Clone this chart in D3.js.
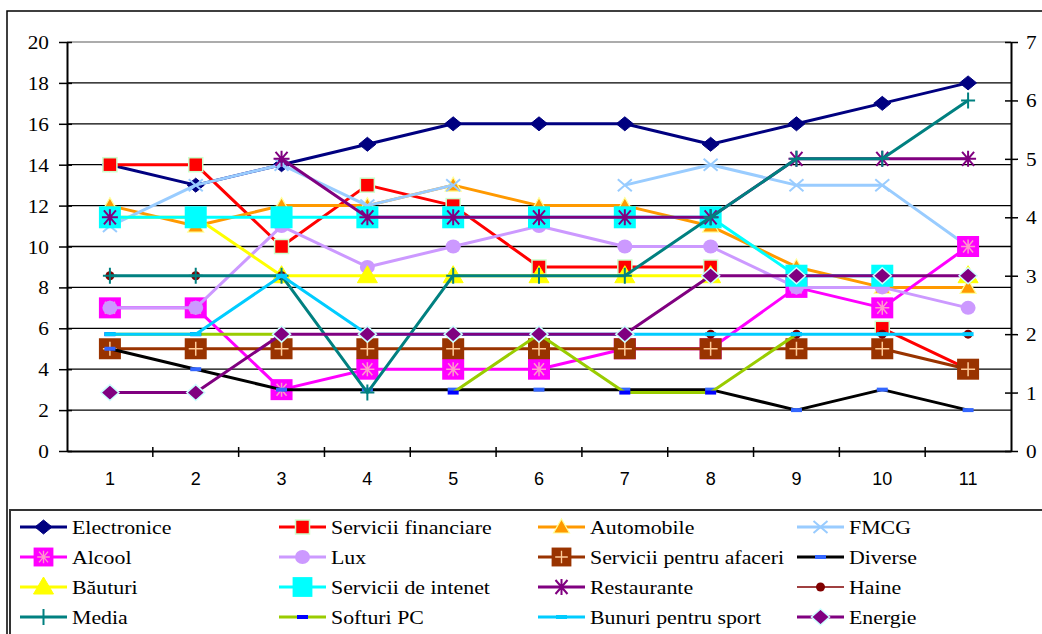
<!DOCTYPE html>
<html>
<head>
<meta charset="utf-8">
<script src="https://cdn.jsdelivr.net/npm/d3@7"></script>
<style>
  body { margin: 0; background: #fff; }
  svg { display: block; }
</style>
</head>
<body>
<div id="chart"></div>
<script>
var width = 1042;
var height = 634;

// categories and tick labels
var cats = ["1","2","3","4","5","6","7","8","9","10","11"];
var leftTicks = [0,2,4,6,8,10,12,14,16,18,20];
var rightTicks = [0,1,2,3,4,5,6,7];

// primary axis series
var electronice = [14,13,14,15,16,16,16,15,16,17,18];
var serviciiFinanciare = [14,14,10,13,12,9,9,9,null,6,4];
var automobile = [12,11,12,12,13,12,12,11,9,8,8];
var fmcg = [11,13,14,12,13,null,13,14,13,13,10];
var alcool = [7,7,3,4,4,4,5,5,8,7,10];
var lux = [7,7,11,9,10,11,10,10,8,8,7];
var serviciiAfaceri = [5,5,5,5,5,5,5,5,5,5,4];
var diverse = [5,4,3,3,3,3,3,3,2,3,2];

// secondary axis series
var bauturi = [4,4,3,3,3,3,3,3,null,null,3];
var serviciiIntenet = [4,4,4,4,4,4,4,4,3,3,null];
var restaurante = [4,null,5,4,4,4,4,4,5,5,5];
var haine = [3,3,3,null,null,null,null,2,2,2,2];
var media = [3,3,3,1,3,3,3,4,5,5,6];
var softuriPC = [2,2,2,null,1,2,1,1,2,null,null];
var bunuriSport = [2,2,3,2,2,2,2,2,2,2,2];
var energie = [1,1,2,2,2,2,2,3,3,3,3];

var series = [
  {name:"Electronice", values:electronice, axis:"L", color:"#000080", lw:3, marker:"diamond", mfill:"#000080", mstroke:"#000080"},
  {name:"Servicii financiare", values:serviciiFinanciare, axis:"L", color:"#FF0000", lw:3, marker:"square", mfill:"#FF0000", mstroke:"#CCFFCC"},
  {name:"Automobile", values:automobile, axis:"L", color:"#FF9900", lw:3, marker:"triangle", mfill:"#FF9900", mstroke:"#FFFF99"},
  {name:"FMCG", values:fmcg, axis:"L", color:"#99CCFF", lw:3, marker:"x", mfill:"none", mstroke:"#99CCFF"},
  {name:"Alcool", values:alcool, axis:"L", color:"#FF00FF", lw:3, marker:"squareStar", mfill:"#FF00FF", mstroke:"#FF99CC"},
  {name:"Lux", values:lux, axis:"L", color:"#CC99FF", lw:3, marker:"circle", mfill:"#CC99FF", mstroke:"#CC99FF"},
  {name:"Servicii pentru afaceri", values:serviciiAfaceri, axis:"L", color:"#993300", lw:3, marker:"squarePlus", mfill:"#993300", mstroke:"#FFCC99"},
  {name:"Diverse", values:diverse, axis:"L", color:"#000000", lw:3, marker:"dash", mfill:"#3366FF", mstroke:"none"},
  {name:"B\u0103uturi", values:bauturi, axis:"R", color:"#FFFF00", lw:3, marker:"bigTriangle", mfill:"#FFFF00", mstroke:"#FFFF00"},
  {name:"Servicii de intenet", values:serviciiIntenet, axis:"R", color:"#00FFFF", lw:3, marker:"bigSquare", mfill:"#00FFFF", mstroke:"#00FFFF"},
  {name:"Restaurante", values:restaurante, axis:"R", color:"#800080", lw:3, marker:"star", mfill:"none", mstroke:"#800080"},
  {name:"Haine", values:haine, axis:"R", color:"#800000", lw:1.5, marker:"smallCircle", mfill:"#800000", mstroke:"#800000"},
  {name:"Media", values:media, axis:"R", color:"#008080", lw:3, marker:"plus", mfill:"none", mstroke:"#008080"},
  {name:"Softuri PC", values:softuriPC, axis:"R", color:"#99CC00", lw:3, marker:"dash", mfill:"#0000FF", mstroke:"none"},
  {name:"Bunuri pentru sport", values:bunuriSport, axis:"R", color:"#00CCFF", lw:3, marker:"dash", mfill:"#00CCFF", mstroke:"none"},
  {name:"Energie", values:energie, axis:"R", color:"#800080", lw:3, marker:"smallDiamond", mfill:"#800080", mstroke:"#CCFFFF"}
];

var legendOrder = [
  "Electronice","Servicii financiare","Automobile","FMCG",
  "Alcool","Lux","Servicii pentru afaceri","Diverse",
  "B\u0103uturi","Servicii de intenet","Restaurante","Haine",
  "Media","Softuri PC","Bunuri pentru sport","Energie"
];

var plot = {left:67, right:1011, top:42, bottom:451};

var svg = d3.select("#chart")
  .append("svg")
  .attr("width", width)
  .attr("height", height);

// outer chart border and legend box
svg.append("rect")
  .attr("x", 7).attr("y", 11)
  .attr("width", 1100).attr("height", 700)
  .attr("fill", "#fff")
  .attr("stroke", "#000")
  .attr("stroke-width", 1.5);

var x = d3.scaleBand().domain(cats).range([plot.left, plot.right]);
var yL = d3.scaleLinear().domain([0,20]).range([plot.bottom, plot.top]);
var yR = d3.scaleLinear().domain([0,7]).range([plot.bottom, plot.top]);

function cx(i){ return x(cats[i]) + x.bandwidth()/2; }

// gridlines
svg.append("g").selectAll("line")
  .data(leftTicks.filter(function(d){ return d > 0; }))
  .enter().append("line")
  .attr("x1", plot.left).attr("x2", plot.right)
  .attr("y1", function(d){ return yL(d); })
  .attr("y2", function(d){ return yL(d); })
  .attr("stroke", function(d){ return d == 20 ? "#909090" : "#000"; })
  .attr("stroke-width", 1.3);

var serif = "'Liberation Serif', 'Times New Roman', serif";

// left axis
var axL = svg.append("g")
  .attr("transform", "translate(" + plot.left + ",0)")
  .call(d3.axisLeft(yL).tickValues(leftTicks).tickSize(0).tickPadding(0));
axL.select(".domain").attr("stroke", "#000").attr("stroke-width", 2);
axL.selectAll(".tick line").attr("x1", -8).attr("x2", 5).attr("stroke", "#000").attr("stroke-width", 1.5);
axL.selectAll(".tick text").remove();
axL.selectAll(".tick").append("text")
  .attr("text-anchor", "end")
  .attr("transform", "translate(-18,6.5) scale(1.12,1)")
  .attr("font-family", serif)
  .attr("font-size", 19)
  .attr("fill", "#000")
  .text(function(d){ return d; });

// right axis
var axR = svg.append("g")
  .attr("transform", "translate(" + plot.right + ",0)")
  .call(d3.axisRight(yR).tickValues(rightTicks).tickSize(0).tickPadding(0));
axR.select(".domain").attr("stroke", "#000").attr("stroke-width", 2);
axR.selectAll(".tick line").attr("x1", -6).attr("x2", 7).attr("stroke", "#000").attr("stroke-width", 1.5);
axR.selectAll(".tick text").remove();
axR.selectAll(".tick").append("text")
  .attr("text-anchor", "start")
  .attr("transform", "translate(15,6.5) scale(1.12,1)")
  .attr("font-family", serif)
  .attr("font-size", 19)
  .attr("fill", "#000")
  .text(function(d){ return d; });

// bottom axis
var axB = svg.append("g")
  .attr("transform", "translate(0," + plot.bottom + ")")
  .call(d3.axisBottom(x).tickSize(0).tickPadding(0));
axB.select(".domain").attr("stroke", "#000").attr("stroke-width", 2);
axB.selectAll(".tick line").remove();
axB.selectAll(".tick text").remove();
axB.selectAll(".tick").append("text")
  .attr("text-anchor", "middle")
  .attr("y", 34)
  .attr("font-family", "'Liberation Sans', Arial, sans-serif")
  .attr("font-size", 18)
  .attr("fill", "#000")
  .text(function(d){ return d; });
// cross ticks between categories
axB.append("g").selectAll("line")
  .data(cats.slice(1))
  .enter().append("line")
  .attr("x1", function(d){ return x(d); })
  .attr("x2", function(d){ return x(d); })
  .attr("y1", -4).attr("y2", 6)
  .attr("stroke", "#000").attr("stroke-width", 1.5);

function drawMarker(g, type, fill, stroke, px, py){
  var m = g.append("g").attr("transform", "translate(" + px + "," + py + ")");
  if(type == "diamond"){
    m.append("path").attr("d", "M0,-7L8.5,0L0,7L-8.5,0Z").attr("fill", fill).attr("stroke", stroke).attr("stroke-width", 1);
  }else if(type == "smallDiamond"){
    m.append("path").attr("d", "M0,-8L9,0L0,8L-9,0Z").attr("fill", fill).attr("stroke", stroke).attr("stroke-width", 1.5);
  }else if(type == "square"){
    m.append("rect").attr("x", -7).attr("y", -7).attr("width", 14).attr("height", 14)
      .attr("fill", fill).attr("stroke", stroke).attr("stroke-width", 1.5);
  }else if(type == "triangle"){
    m.append("path").attr("d", "M0,-8L8,6L-8,6Z").attr("fill", fill).attr("stroke", stroke).attr("stroke-width", 1.2);
  }else if(type == "bigTriangle"){
    m.append("path").attr("d", "M0,-10L10,7L-10,7Z").attr("fill", fill).attr("stroke", stroke).attr("stroke-width", 1);
  }else if(type == "x"){
    m.append("path").attr("d", "M-7,-6L7,6M-7,6L7,-6").attr("stroke", stroke).attr("stroke-width", 2).attr("fill", "none");
  }else if(type == "squareStar"){
    m.append("rect").attr("x", -11).attr("y", -10.5).attr("width", 22).attr("height", 21).attr("fill", fill);
    m.append("path").attr("d", "M-7,0L7,0M-5,-6L5,6M-5,6L5,-6M0,-7L0,7").attr("stroke", stroke).attr("stroke-width", 1.5);
  }else if(type == "circle"){
    m.append("ellipse").attr("rx", 7.5).attr("ry", 7).attr("fill", fill);
  }else if(type == "smallCircle"){
    m.append("circle").attr("r", 4.5).attr("fill", fill);
  }else if(type == "squarePlus"){
    m.append("rect").attr("x", -11).attr("y", -10.5).attr("width", 22).attr("height", 21).attr("fill", fill);
    m.append("path").attr("d", "M-7,0L7,0M0,-7L0,7").attr("stroke", stroke).attr("stroke-width", 1.5);
  }else if(type == "bigSquare"){
    m.append("rect").attr("x", -11).attr("y", -11).attr("width", 22).attr("height", 22).attr("fill", fill);
  }else if(type == "dash"){
    m.append("rect").attr("x", -5.5).attr("y", -2).attr("width", 11).attr("height", 4).attr("fill", fill);
  }else if(type == "star"){
    m.append("path").attr("d", "M-8,0L8,0M-6,-7L6,7M-6,7L6,-7M0,-8L0,8").attr("stroke", stroke).attr("stroke-width", 2);
  }else if(type == "plus"){
    m.append("path").attr("d", "M-7,0L7,0M0,-8L0,8").attr("stroke", stroke).attr("stroke-width", 2);
  }
}

var plotG = svg.append("g");

series.forEach(function(s){
  var yScale = s.axis == "L" ? yL : yR;
  var pts = s.values.map(function(v, i){ return {i:i, v:v}; });
  var line = d3.line()
    .defined(function(d){ return d.v != null; })
    .x(function(d){ return cx(d.i); })
    .y(function(d){ return yScale(d.v); });
  var g = plotG.append("g");
  g.append("path")
    .attr("d", line(pts))
    .attr("fill", "none")
    .attr("stroke", s.color)
    .attr("stroke-width", s.lw)
    .attr("stroke-linejoin", "round");
  pts.forEach(function(d){
    if(d.v != null) drawMarker(g, s.marker, s.mfill, s.mstroke, cx(d.i), yScale(d.v));
  });
});

// legend
svg.append("rect")
  .attr("x", 10).attr("y", 510)
  .attr("width", 1100).attr("height", 200)
  .attr("fill", "#fff")
  .attr("stroke", "#333")
  .attr("stroke-width", 2);

var colX = [20, 279, 538, 797];
var rowY = [527, 557, 587, 617];
var legend = svg.append("g");

legendOrder.forEach(function(name, k){
  var s = series.filter(function(d){ return d.name == name; })[0];
  var lx = colX[k % 4], ly = rowY[Math.floor(k / 4)];
  var g = legend.append("g");
  g.append("line")
    .attr("x1", lx).attr("x2", lx + 47)
    .attr("y1", ly).attr("y2", ly)
    .attr("stroke", s.color).attr("stroke-width", s.lw);
  var mk = s.marker;
  if(mk == "squareStar" || mk == "squarePlus" || mk == "bigSquare"){
    var mg = g.append("g").attr("transform", "translate(" + (lx + 23.5) + "," + ly + ") scale(0.9)");
    drawMarker(mg, mk, s.mfill, s.mstroke, 0, 0);
  }else{
    drawMarker(g, mk, s.mfill, s.mstroke, lx + 23.5, ly);
  }
  g.append("text")
    .attr("transform", "translate(" + (lx + 52) + "," + (ly + 6.5) + ") scale(1.15,1)")
    .attr("font-family", serif)
    .attr("font-size", 19)
    .attr("fill", "#000")
    .text(name);
});
</script>
</body>
</html>
